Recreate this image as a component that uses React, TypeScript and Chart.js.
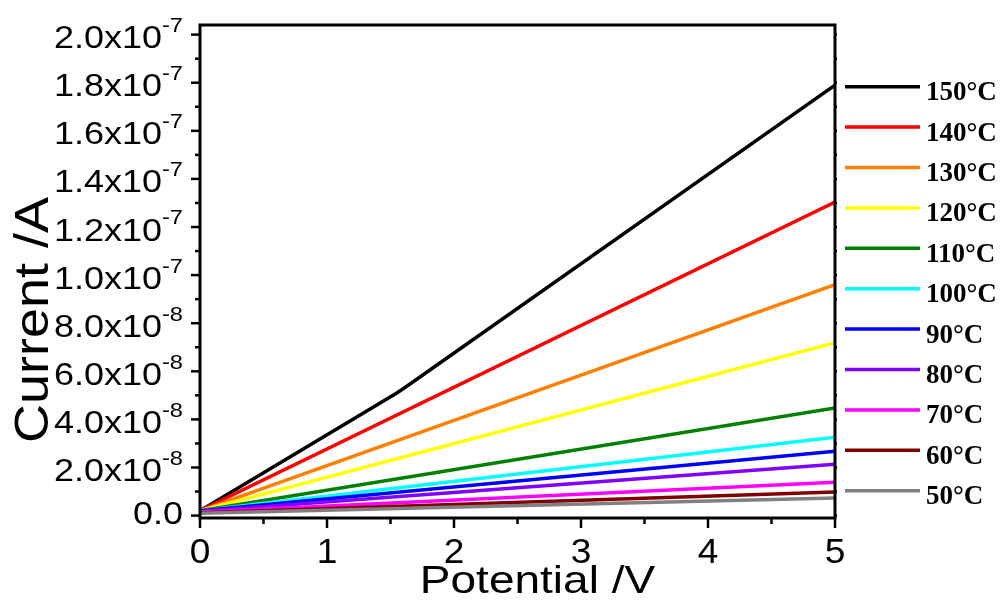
import React, { useEffect, useRef } from "react";
import { Chart, registerables } from "chart.js";

Chart.register(...registerables);

// ---- Data ----
const seriesLabels = ["150°C", "140°C", "130°C", "120°C", "110°C", "100°C", "90°C", "80°C", "70°C", "60°C", "50°C"];
const seriesColors = ["#000000", "#ff0000", "#ff8000", "#ffff00", "#008000", "#00ffff", "#0000ff", "#8000ff", "#ff00ff", "#800000", "#808080"];

const potential150 = [0, 1.55, 1.62, 5];
const current150 = [0.2e-8, 5.1e-8, 5.35e-8, 17.9e-8];
const potentialOthers = [0, 5];
const current140 = [0.2e-8, 13.04e-8];
const current130 = [0.2e-8, 9.6e-8];
const current120 = [0.2e-8, 7.19e-8];
const current110 = [0.2e-8, 4.47e-8];
const current100 = [0.2e-8, 3.26e-8];
const current90 = [0.2e-8, 2.68e-8];
const current80 = [0.18e-8, 2.14e-8];
const current70 = [0.15e-8, 1.39e-8];
const current60 = [0.12e-8, 0.98e-8];
const current50 = [0.1e-8, 0.73e-8];

const xTickValues = [0, 1, 2, 3, 4, 5];
const xTickLabels = ["0", "1", "2", "3", "4", "5"];
const xMinorValues = [0.5, 1.5, 2.5, 3.5, 4.5];
const yTickValues = [0, 2e-8, 4e-8, 6e-8, 8e-8, 1e-7, 1.2e-7, 1.4e-7, 1.6e-7, 1.8e-7, 2e-7];
const yTickMantissa = ["0.0", "2.0", "4.0", "6.0", "8.0", "1.0", "1.2", "1.4", "1.6", "1.8", "2.0"];
const yTickExponent = ["", "-8", "-8", "-8", "-8", "-7", "-7", "-7", "-7", "-7", "-7"];
const yMinorValues = [1e-8, 3e-8, 5e-8, 7e-8, 9e-8, 1.1e-7, 1.3e-7, 1.5e-7, 1.7e-7, 1.9e-7];
const xTitle = "Potential /V";
const yTitle = "Current /A";

const seriesPotentials = [potential150, potentialOthers, potentialOthers, potentialOthers, potentialOthers, potentialOthers, potentialOthers, potentialOthers, potentialOthers, potentialOthers, potentialOthers];
const seriesCurrents = [current150, current140, current130, current120, current110, current100, current90, current80, current70, current60, current50];

const SANS = '"Liberation Sans", Arial, sans-serif';
const SERIF = '"Liberation Serif", "Times New Roman", serif';

const decorPlugin = {
  id: "decor",
  afterDraw(chart: any) {
    const ctx: CanvasRenderingContext2D = chart.ctx;
    const xs = chart.scales.x;
    const ys = chart.scales.y;
    const a = chart.chartArea;
    ctx.save();
    ctx.strokeStyle = "#000";
    ctx.fillStyle = "#000";
    ctx.lineWidth = 3;
    ctx.lineCap = "butt";
    ctx.strokeRect(a.left, a.top, a.right - a.left, a.bottom - a.top);
    const drawH = (x1: number, x2: number, y: number) => {
      ctx.beginPath();
      ctx.moveTo(x1, y);
      ctx.lineTo(x2, y);
      ctx.stroke();
    };
    const drawV = (x: number, y1: number, y2: number) => {
      ctx.beginPath();
      ctx.moveTo(x, y1);
      ctx.lineTo(x, y2);
      ctx.stroke();
    };
    ctx.lineWidth = 2.5;
    yTickValues.forEach((v) => {
      const y = ys.getPixelForValue(v);
      drawH(a.left - 9, a.left, y);
      drawH(a.right, a.right + 2, y);
    });
    yMinorValues.forEach((v) => {
      const y = ys.getPixelForValue(v);
      drawH(a.left - 5, a.left, y);
      drawH(a.right, a.right + 2, y);
    });
    xTickValues.forEach((v) => {
      const x = xs.getPixelForValue(v);
      drawV(x, a.bottom, a.bottom + 10);
    });
    xMinorValues.forEach((v) => {
      const x = xs.getPixelForValue(v);
      drawV(x, a.bottom, a.bottom + 6);
    });

    // y tick labels
    const sx = 1.125;
    const labelRight = 183;
    yTickValues.forEach((v, i) => {
      const ty = ys.getPixelForValue(v);
      const exp = yTickExponent[i];
      const main = exp ? yTickMantissa[i] + "x10" : yTickMantissa[i];
      ctx.font = `32px ${SANS}`;
      const wMain = ctx.measureText(main).width;
      ctx.font = `21px ${SANS}`;
      const wSup = exp ? ctx.measureText(exp).width : 0;
      const total = (wMain + wSup) * sx;
      const x0 = labelRight - total;
      ctx.textAlign = "left";
      ctx.textBaseline = "alphabetic";
      ctx.save();
      ctx.translate(x0, ty + (exp ? 13.5 : 8.5));
      ctx.scale(sx, 1);
      ctx.font = `32px ${SANS}`;
      ctx.fillText(main, 0, 0);
      ctx.restore();
      if (exp) {
        ctx.save();
        ctx.translate(x0 + wMain * sx, ty - 2.6);
        ctx.scale(sx, 1);
        ctx.font = `21px ${SANS}`;
        ctx.fillText(exp, 0, 0);
        ctx.restore();
      }
    });

    // x tick labels
    xTickValues.forEach((v, i) => {
      const x = xs.getPixelForValue(v);
      ctx.save();
      ctx.translate(x, 563);
      ctx.scale(1.06, 1);
      ctx.font = `35px ${SANS}`;
      ctx.textAlign = "center";
      ctx.textBaseline = "alphabetic";
      ctx.fillText(xTickLabels[i], 0, 0);
      ctx.restore();
    });

    // x title
    ctx.save();
    ctx.translate(537.5, 593);
    ctx.scale(1.18, 1);
    ctx.font = `39px ${SANS}`;
    ctx.textAlign = "center";
    ctx.textBaseline = "alphabetic";
    ctx.fillText(xTitle, 0, 0);
    ctx.restore();

    // y title
    ctx.save();
    ctx.translate(48, 320);
    ctx.rotate(-Math.PI / 2);
    ctx.scale(1.2, 1.08);
    ctx.font = `45px ${SANS}`;
    ctx.textAlign = "center";
    ctx.textBaseline = "alphabetic";
    ctx.fillText(yTitle, 0, 0);
    ctx.restore();

    // legend
    const legX1 = 845;
    const legX2 = 920;
    const legTop = 86.7;
    const legStep = 40.4;
    seriesLabels.forEach((lab, i) => {
      const y = legTop + i * legStep;
      ctx.strokeStyle = seriesColors[i];
      ctx.lineWidth = 3.5;
      drawH(legX1, legX2, y);
      ctx.fillStyle = "#000";
      ctx.font = `bold 27px ${SERIF}`;
      ctx.textAlign = "left";
      ctx.textBaseline = "alphabetic";
      ctx.fillText(lab, 926, y + 13.5);
    });
    ctx.restore();
  },
};

export default function App() {
  const canvasRef = useRef<HTMLCanvasElement | null>(null);

  useEffect(() => {
    const canvas = canvasRef.current;
    if (!canvas) return;
    const datasets = seriesLabels.map((lab, i) => ({
      label: lab,
      data: seriesPotentials[i].map((p, j) => ({ x: p, y: seriesCurrents[i][j] })),
      borderColor: seriesColors[i],
      backgroundColor: seriesColors[i],
      borderWidth: 3.5,
      pointRadius: 0,
      tension: 0,
      fill: false,
      order: seriesLabels.length - i,
    }));
    const chart = new Chart(canvas, {
      type: "line",
      data: { datasets },
      options: {
        responsive: false,
        animation: false,
        layout: { padding: { left: 200, right: 168, top: 25, bottom: 85 } },
        plugins: { legend: { display: false }, tooltip: { enabled: false } },
        scales: {
          x: { type: "linear", min: 0, max: 5, display: false },
          y: { type: "linear", min: -1e-9, max: 2.04e-7, display: false },
        },
      },
      plugins: [decorPlugin],
    });
    return () => chart.destroy();
  }, []);

  return (
    <div style={{ position: "absolute", left: 0, top: 0, width: 1003, height: 603, background: "#fff" }}>
      <canvas ref={canvasRef} width={1003} height={603} style={{ width: 1003, height: 603, display: "block" }} />
    </div>
  );
}
